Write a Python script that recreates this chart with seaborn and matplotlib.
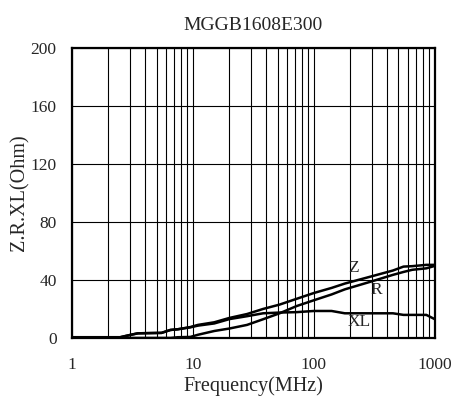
import matplotlib
matplotlib.use("Agg")
import matplotlib.pyplot as plt
import seaborn as sns
import pandas as pd
from matplotlib.ticker import FixedLocator, NullFormatter, LogLocator

freq = [1, 2.5, 3, 3.5, 5.5, 6.5, 7.5, 9.5, 11, 15, 20, 28, 38, 52, 72, 100,
        140, 180, 300, 450, 550, 650, 850, 1000]
z_vals = [0.5, 0.5, 2, 3.2, 3.5, 5.5, 6, 7.5, 9, 10.8, 13.8, 16.5, 20, 23, 27, 31,
          34.5, 37.5, 42.5, 46.5, 49.2, 49.5, 50.4, 50.4]
xl_vals = [0.5, 0.5, 2, 3.2, 3.5, 5.5, 6, 7.3, 8.5, 10, 13, 15, 17, 17.5, 17.8, 18.6,
           18.6, 17, 17, 17, 15.9, 15.9, 15.9, 12.9]
r_vals = [0, 0, 0, 0, 0, 0, 0.5, 0.7, 2.2, 4.8, 6.5, 9, 12.9, 17, 22, 26,
          30, 33.5, 39, 43.5, 45.5, 47, 48, 49.7]
series_names = ["Z", "R", "XL"]
label_pos = {"Z": (214, 48.5), "R": (330, 33), "XL": (235, 11)}
title = "MGGB1608E300"
x_ticks = [1, 10, 100, 1000]
y_ticks = [0, 40, 80, 120, 160, 200]

df = pd.concat([
    pd.DataFrame({"freq": freq, "val": z_vals, "s": "Z"}),
    pd.DataFrame({"freq": freq, "val": r_vals, "s": "R"}),
    pd.DataFrame({"freq": freq, "val": xl_vals, "s": "XL"}),
])

sns.set_style("white")
plt.rcParams["font.family"] = ["Liberation Serif", "DejaVu Serif"]

fig = plt.figure(figsize=(4.53, 3.99), dpi=100)
ax = fig.add_axes([0.159, 0.153, 0.801, 0.727])

sns.lineplot(data=df, x="freq", y="val", hue="s", hue_order=series_names,
             palette=["black"] * 3, linewidth=1.8, legend=False, ax=ax,
             estimator=None, sort=False)

ax.set_xscale("log")
ax.set_xlim(1, 1000)
ax.set_ylim(0, 200)
ax.xaxis.set_major_locator(FixedLocator(x_ticks))
ax.set_xticklabels([str(t) for t in x_ticks])
ax.xaxis.set_minor_locator(LogLocator(base=10, subs=range(2, 10)))
ax.xaxis.set_minor_formatter(NullFormatter())
ax.set_yticks(y_ticks)
ax.set_yticklabels([str(t) for t in y_ticks])

ax.grid(True, which="both", axis="x", color="black", linewidth=0.8)
ax.grid(True, which="major", axis="y", color="black", linewidth=0.8)
ax.tick_params(axis="x", which="both", length=0, pad=14, labelsize=12.5)
ax.tick_params(axis="y", length=0, pad=11, labelsize=12.5)
for sp in ax.spines.values():
    sp.set_visible(True)
    sp.set_color("black")
    sp.set_linewidth(1.6)

for name in series_names:
    x, y = label_pos[name]
    ax.text(x, y, name, fontsize=12.5, ha="center", va="center")

ax.set_title(title, fontsize=14, pad=13)
ax.set_xlabel("Frequency(MHz)", fontsize=14.5, labelpad=2)
ax.set_ylabel("Z.R.XL(Ohm)", fontsize=14.5, labelpad=1)

fig.savefig("out.png", dpi=100, facecolor="white")
